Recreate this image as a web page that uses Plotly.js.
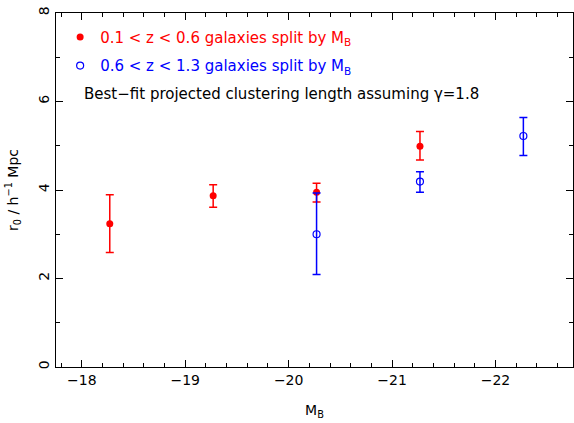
<!DOCTYPE html>
<html>
<head>
<meta charset="utf-8">
<script src="https://cdn.plot.ly/plotly-3.0.1.min.js"></script>
<style>html,body{margin:0;padding:0;background:#fff;}#chart{width:574px;height:423px;}</style>
</head>
<body>
<div id="chart"></div>
<script>
// Data
var redX = [-18.27, -19.27, -20.27, -21.27];
var redY = [3.24, 3.87, 3.95, 4.99];
var redErrPlus = [0.65, 0.25, 0.20, 0.33];
var redErrMinus = [0.65, 0.26, 0.22, 0.31];

var blueX = [-20.27, -21.27, -22.27];
var blueY = [3.00, 4.19, 5.22];
var blueErrPlus = [0.93, 0.22, 0.42];
var blueErrMinus = [0.91, 0.24, 0.44];

var xTickVals = [-18, -19, -20, -21, -22];
var yTickVals = [0, 2, 4, 6, 8];

var redName = '<span style="color:#ff0000">0.1 &lt; z &lt; 0.6 galaxies split by M<sub>B</sub></span>';
var blueName = '<span style="color:#0000ff">0.6 &lt; z &lt; 1.3 galaxies split by M<sub>B</sub></span>';
var noteText = 'Best\u2212fit projected clustering length assuming \u03b3=1.8';

var FONT = 'DejaVu Sans, Liberation Sans, sans-serif';

var traces = [
  {
    x: redX, y: redY, type: 'scatter', mode: 'markers', name: redName,
    legendgroup: 'r',
    marker: {symbol: 'circle', size: 7, color: '#ff0000'},
    error_y: {type: 'data', symmetric: false, array: redErrPlus, arrayminus: redErrMinus,
              color: '#ff0000', thickness: 1.5, width: 4}
  },
  {
    x: blueX, y: blueY, type: 'scatter', mode: 'markers', name: blueName,
    legendgroup: 'b',
    marker: {symbol: 'circle-open', size: 7, color: '#0000ff', line: {width: 1.2}},
    error_y: {type: 'data', symmetric: false, array: blueErrPlus, arrayminus: blueErrMinus,
              color: '#0000ff', thickness: 1.5, width: 4}
  }
];

var axisCommon = {
  showgrid: false, zeroline: false, showline: true, linecolor: '#000', linewidth: 1,
  mirror: 'ticks', ticks: 'inside', ticklen: 7, tickwidth: 1, tickcolor: '#000',
  tickfont: {family: FONT, size: 14, color: '#000'}
};

var layout = {
  width: 574, height: 423,
  margin: {l: 56, r: 1, t: 13, b: 56},
  paper_bgcolor: '#fff', plot_bgcolor: '#fff',
  font: {family: FONT, size: 15, color: '#000'},
  showlegend: true,
  legend: {
    x: 0.008, y: 0.978, xanchor: 'left', yanchor: 'top',
    bgcolor: 'rgba(0,0,0,0)', borderwidth: 0,
    traceorder: 'grouped', tracegroupgap: 6,
    font: {family: FONT, size: 15}
  },
  xaxis: Object.assign({}, axisCommon, {
    range: [-17.75, -22.75],
    tickmode: 'array', tickvals: xTickVals,
    ticktext: xTickVals.map(function(v){ return '\u2212' + Math.abs(v); }),
    minor: {dtick: 0.2, ticklen: 4, tickcolor: '#000', ticks: 'inside'},
    title: {text: 'M<sub>B</sub>', font: {family: FONT, size: 14}, standoff: 18}
  }),
  yaxis: Object.assign({}, axisCommon, {
    range: [0, 8],
    tickmode: 'array', tickvals: yTickVals,
    tickangle: -90,
    minor: {dtick: 1, ticklen: 4, tickcolor: '#000', ticks: 'inside'},
    title: {text: 'r<sub>0</sub> / h<sup>\u22121</sup> Mpc', font: {family: FONT, size: 14}, standoff: 14}
  }),
  annotations: [
    {xref: 'paper', yref: 'paper', x: 0.05, y: 0.77, xanchor: 'left', yanchor: 'middle',
     text: noteText, showarrow: false, font: {family: FONT, size: 15, color: '#000'}}
  ]
};

Plotly.newPlot('chart', traces, layout, {displayModeBar: false, staticPlot: true});
</script>
</body>
</html>
